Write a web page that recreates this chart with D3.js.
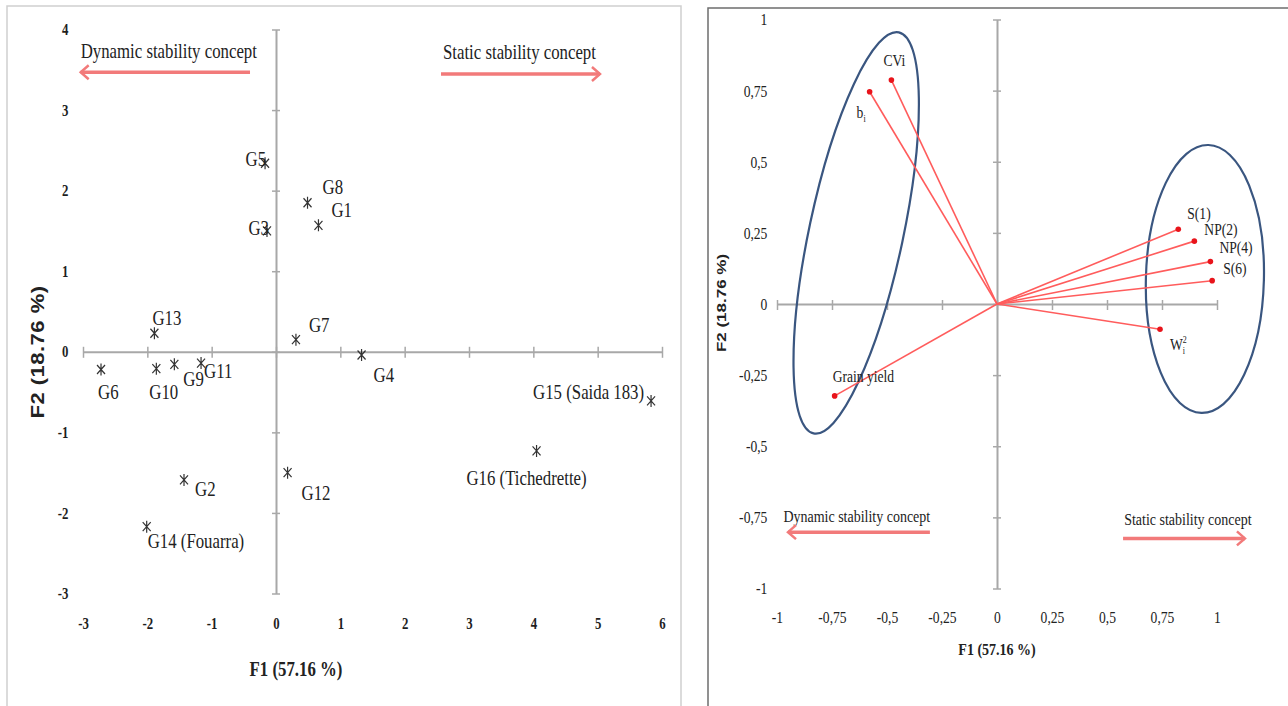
<!DOCTYPE html>
<html>
<head>
<meta charset="utf-8">
<script src="https://cdn.jsdelivr.net/npm/d3@7"></script>
<style>
body { margin: 0; background: #fff; }
svg { display: block; }
text { font-family: "Liberation Serif", "Times New Roman", serif; fill: #222; }
</style>
</head>
<body>
<svg id="chart" width="1288" height="706"></svg>
<script>
// Genotype scores on F1 / F2 (left biplot)
var genotypes = ["G1", "G2", "G3", "G4", "G5", "G6", "G7", "G8", "G9", "G10",
                 "G11", "G12", "G13", "G14 (Fouarra)", "G15 (Saida 183)", "G16 (Tichedrette)"];
var genoF1 = [0.66, -1.43, -0.14, 1.33, -0.17, -2.72, 0.31, 0.49, -1.58, -1.86,
              -1.165, 0.18, -1.89, -2.01, 5.83, 4.05];
var genoF2 = [1.57, -1.59, 1.50, -0.04, 2.34, -0.22, 0.15, 1.85, -0.155, -0.21,
              -0.14, -1.50, 0.23, -2.17, -0.61, -1.23];

// Variable loadings on F1 / F2 (right correlation circle)
var varNames = ["CVi", "b_i", "S(1)", "NP(2)", "NP(4)", "S(6)", "W_i^2", "Grain yield"];
var varF1 = [-0.48, -0.579, 0.824, 0.897, 0.97, 0.978, 0.741, -0.738];
var varF2 = [0.787, 0.746, 0.263, 0.221, 0.149, 0.082, -0.089, -0.323];

// tick labels
var scoreXTicks = [-3, -2, -1, 0, 1, 2, 3, 4, 5, 6];
var scoreYTicks = [-3, -2, -1, 0, 1, 2, 3, 4];
var loadTicks = [-1, -0.75, -0.5, -0.25, 0, 0.25, 0.5, 0.75, 1];

var titleF1 = "F1 (57.16 %)";
var titleF2 = "F2 (18.76 %)";
var dynText = "Dynamic stability concept";
var statText = "Static stability concept";

// label placement (pixels from the point): dx, dy, anchor
var genoLabelPos = [[13, -8, "start"], [11, 16, "start"], [2, 4, "end"], [12, 27, "start"],
                    [1, 3, "end"], [-3, 29, "start"], [13, -8, "start"], [15, -9, "start"],
                    [9, 22, "start"], [-7, 30, "start"], [3, 15, "start"], [14, 27, "start"],
                    [-2, -8, "start"], [1, 21, "start"], [-7, -2, "end"], [-10, 34, "middle"]];
var varLabelPos = [[-8, -14], [-13, 26], [9, -10], [10, -6], [9, -9], [11, -7], [10, 21], [-2, -14]];

var svg = d3.select("#chart");
var axisColor = "#a8a8a8";
var arrowColor = "#f27a7a";
var squeeze = 0.8; // the source figure is narrow-set type

function addText(g, x, y, str, size, anchor, weight) {
    return g.append("text")
        .attr("transform", "translate(" + x + "," + y + ") scale(" + squeeze + ",1)")
        .attr("text-anchor", anchor || "start")
        .style("font-size", size + "px")
        .style("font-weight", weight || "normal")
        .text(str);
}

function drawArrow(g, x1, x2, y) {
    var dir = x2 < x1 ? 1 : -1;
    g.append("line")
        .attr("x1", x1).attr("x2", x2).attr("y1", y).attr("y2", y)
        .attr("stroke", arrowColor).attr("stroke-width", 3.5);
    g.append("path")
        .attr("d", "M" + (x2 + dir * 8) + "," + (y - 7) + "L" + x2 + "," + y + "L" + (x2 + dir * 8) + "," + (y + 7))
        .attr("fill", "none").attr("stroke", arrowColor).attr("stroke-width", 2.5);
}

function styleCrossAxis(g, lo, hi, vertical) {
    g.select(".domain").attr("stroke", axisColor).attr("stroke-width", 2);
    g.selectAll(".tick line").attr("stroke", axisColor).attr("stroke-width", 1.5)
        .attr(vertical ? "x1" : "y1", lo).attr(vertical ? "x2" : "y2", hi);
}

/**** Left panel : genotypes ****/
var left = svg.append("g");
left.append("rect").attr("x", 7).attr("y", 6).attr("width", 674).attr("height", 712)
    .attr("fill", "none").attr("stroke", "#cfcfcf").attr("stroke-width", 1.5);

var xS = d3.scaleLinear().domain([-3, 6]).range([83, 662]);
var yS = d3.scaleLinear().domain([-3, 4]).range([593.5, 29.5]);

left.append("g")
    .attr("transform", "translate(0," + yS(0) + ")")
    .call(d3.axisBottom(xS).tickValues(scoreXTicks).tickFormat("").tickSizeOuter(0))
    .call(styleCrossAxis, -5, 6, false);
left.append("g")
    .attr("transform", "translate(" + xS(0) + ",0)")
    .call(d3.axisLeft(yS).tickValues(scoreYTicks).tickFormat("").tickSizeOuter(0))
    .call(styleCrossAxis, -4, 4, true);

var lx = left.append("g")
    .attr("transform", "translate(0,618)")
    .call(d3.axisBottom(xS).tickValues(scoreXTicks).tickSize(0).tickPadding(0).tickFormat(function(d) { return String(d); }));
var ly = left.append("g")
    .attr("transform", "translate(70,0)")
    .call(d3.axisLeft(yS).tickValues(scoreYTicks).tickSize(0).tickPadding(2).tickFormat(function(d) { return String(d); }));
[lx, ly].forEach(function(a) {
    a.select(".domain").remove();
    a.selectAll("text").attr("transform", "scale(" + squeeze + ",1)")
        .style("font-size", "16px").style("font-weight", "bold").style("fill", "#1e1e1e")
        .style("font-family", "'Liberation Serif', serif");
});

addText(left, 296, 676, titleF1, 21, "middle", "bold");
left.append("text")
    .attr("transform", "translate(44,352) rotate(-90) scale(1," + squeeze + ")")
    .attr("text-anchor", "middle")
    .style("font-family", "'Liberation Sans', Arial, sans-serif")
    .style("font-size", "22px").style("font-weight", "bold").style("letter-spacing", "0.5px")
    .text(titleF2);

// concept arrows
addText(left, xS(-3.036), yS(3.643), dynText, 21);
drawArrow(left, xS(-0.404), xS(-3.036), yS(3.469));
addText(left, xS(2.596), yS(3.634), statText, 21);
drawArrow(left, xS(2.565), xS(5.036), yS(3.448));

var geno = genotypes.map(function(name, i) {
    return { name: name, x: genoF1[i], y: genoF2[i], pos: genoLabelPos[i] };
});

left.selectAll(".star")
    .data(geno)
    .enter()
    .append("path")
    .attr("class", "star")
    .attr("transform", function(d) { return "translate(" + xS(d.x) + "," + yS(d.y) + ")"; })
    .attr("d", "M0,-6V6M-4,-4.5L4,4.5M-4,4.5L4,-4.5")
    .attr("fill", "none")
    .attr("stroke", "#333")
    .attr("stroke-width", 1.2);

geno.forEach(function(d) {
    addText(left, xS(d.x) + d.pos[0], yS(d.y) + d.pos[1], d.name, 21, d.pos[2]);
});

/**** Right panel : variables ****/
var right = svg.append("g");
right.append("rect").attr("x", 708).attr("y", 8).attr("width", 620).attr("height", 712)
    .attr("fill", "none").attr("stroke", "#6e6e6e").attr("stroke-width", 1.5);

var xR = d3.scaleLinear().domain([-1, 1]).range([777, 1217]);
var yR = d3.scaleLinear().domain([-1, 1]).range([588.5, 19.5]);

right.append("g")
    .attr("transform", "translate(0," + yR(0) + ")")
    .call(d3.axisBottom(xR).tickValues(loadTicks).tickFormat("").tickSizeOuter(0))
    .call(styleCrossAxis, -4, 6, false);
right.append("g")
    .attr("transform", "translate(" + xR(0) + ",0)")
    .call(d3.axisLeft(yR).tickValues(loadTicks).tickFormat("").tickSizeOuter(0))
    .call(styleCrossAxis, -4, 4, true);

var commaFmt = function(d) { return String(d).replace(".", ","); };
var rx = right.append("g")
    .attr("transform", "translate(0,611)")
    .call(d3.axisBottom(xR).tickValues(loadTicks).tickSize(0).tickPadding(0).tickFormat(commaFmt));
var ry = right.append("g")
    .attr("transform", "translate(769,0)")
    .call(d3.axisLeft(yR).tickValues(loadTicks).tickSize(0).tickPadding(2).tickFormat(commaFmt));
[rx, ry].forEach(function(a) {
    a.select(".domain").remove();
    a.selectAll("text").attr("transform", "scale(" + squeeze + ",1)")
        .style("font-size", "17px").style("fill", "#222")
        .style("font-family", "'Liberation Serif', serif");
});

addText(right, xR(0), 655, titleF1, 17.5, "middle", "bold");
right.append("text")
    .attr("transform", "translate(726,303) rotate(-90) scale(1," + squeeze + ")")
    .attr("text-anchor", "middle")
    .style("font-family", "'Liberation Sans', Arial, sans-serif")
    .style("font-size", "17px").style("font-weight", "bold")
    .text(titleF2);

// grouping ellipses
right.append("ellipse")
    .attr("transform", "translate(" + xR(-0.64) + "," + yR(0.25) + ") rotate(12)")
    .attr("rx", 47).attr("ry", 205)
    .attr("fill", "none").attr("stroke", "#3a5680").attr("stroke-width", 2.2);
right.append("ellipse")
    .attr("transform", "translate(" + xR(0.945) + "," + yR(0.088) + ") rotate(1.5)")
    .attr("rx", 59).attr("ry", 134)
    .attr("fill", "none").attr("stroke", "#3a5680").attr("stroke-width", 2.2);

var vars = varNames.map(function(name, i) {
    return { name: name, x: varF1[i], y: varF2[i], pos: varLabelPos[i] };
});

right.selectAll(".vec")
    .data(vars)
    .enter()
    .append("line")
    .attr("class", "vec")
    .attr("x1", xR(0)).attr("y1", yR(0))
    .attr("x2", function(d) { return xR(d.x); })
    .attr("y2", function(d) { return yR(d.y); })
    .attr("stroke", "#ff5c5c")
    .attr("stroke-width", 1.6);

right.selectAll(".tip")
    .data(vars)
    .enter()
    .append("circle")
    .attr("class", "tip")
    .attr("cx", function(d) { return xR(d.x); })
    .attr("cy", function(d) { return yR(d.y); })
    .attr("r", 2.8)
    .attr("fill", "#e8141b");

vars.forEach(function(d) {
    var t = addText(right, xR(d.x) + d.pos[0], yR(d.y) + d.pos[1], "", 17);
    // "_" starts a subscript, "^" a superscript
    var m = d.name.match(/^([^_^]+)(?:_([^_^]+))?(?:\^(.+))?$/);
    t.append("tspan").text(m[1]);
    if (m[2]) t.append("tspan").attr("dy", 4).style("font-size", "10px").text(m[2]);
    if (m[3]) t.append("tspan").attr("dx", -3).attr("dy", -11).style("font-size", "10px").text(m[3]);
});

// concept arrows
addText(right, xR(-0.971), yR(-0.765), dynText, 17.5);
drawArrow(right, xR(-0.305), xR(-0.95), yR(-0.802));
addText(right, xR(0.578), yR(-0.777), statText, 17.5);
drawArrow(right, xR(0.573), xR(1.127), yR(-0.824));
</script>
</body>
</html>
